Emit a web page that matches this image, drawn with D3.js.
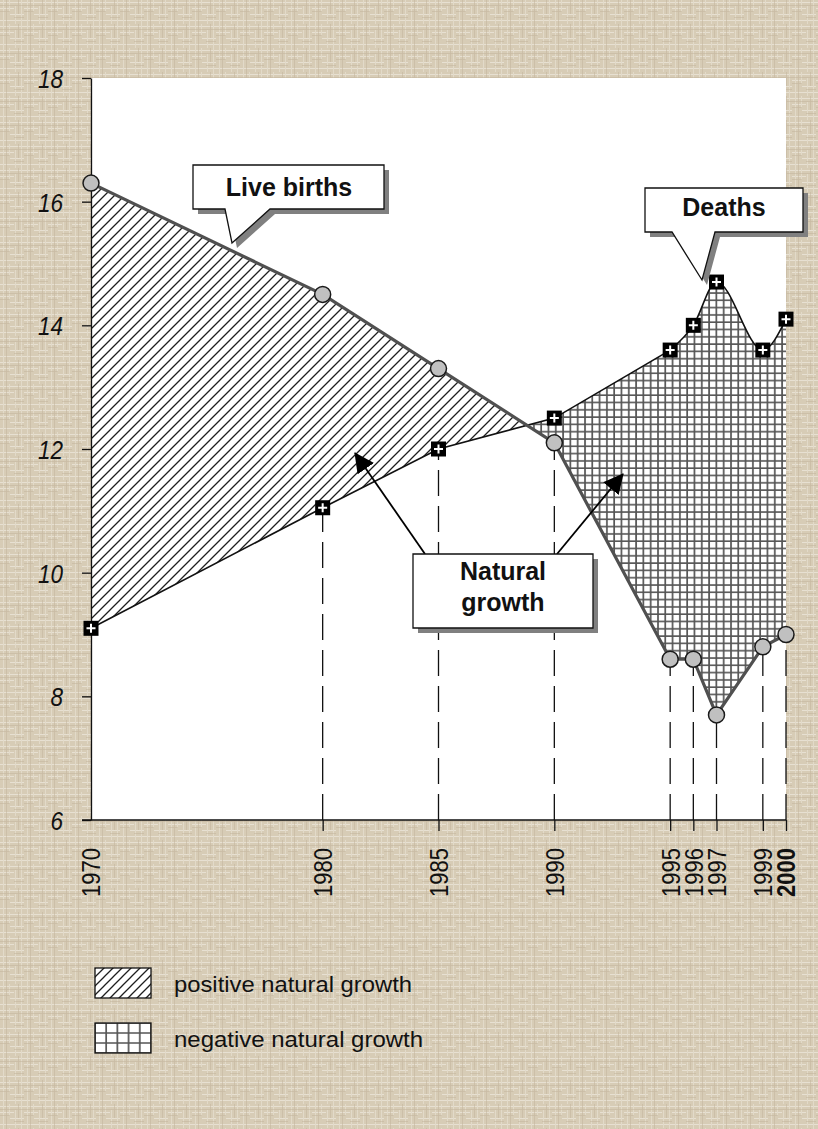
<!doctype html>
<html>
<head>
	<meta charset="utf-8">
	<script src="https://d3js.org/d3.v7.min.js"></script>
	<style>
		body { margin: 0; }
		svg { display: block; }
	</style>
</head>
<body>
	<div id="viz"></div>
	<script>
		// values (per 1000 population)
		var years = [1970, 1980, 1985, 1990, 1995, 1996, 1997, 1999, 2000];
		var liveBirths = [16.3, 14.5, 13.3, 12.1, 8.6, 8.6, 7.7, 8.8, 9.0];
		var deaths = [9.1, 11.05, 12.0, 12.5, 13.6, 14.0, 14.7, 13.6, 14.1];
		var yTicks = [6, 8, 10, 12, 14, 16, 18];
		var legendLabels = ["positive natural growth", "negative natural growth"];

		dataViz()
		function dataViz() {
			var W = 818, H = 1129;
			var plot = {left: 91, right: 786, top: 78, bottom: 820};

			var rows = years.map(function(yr, i) {
				return {year: yr, births: liveBirths[i], deaths: deaths[i]};
			});

			var xScale = d3.scaleLinear()
				.domain([1970, 2000])
				.range([plot.left, plot.right]);

			var yScale = d3.scaleLinear()
				.domain([6, 18])
				.range([plot.bottom, plot.top]);

			var svg = d3.select("#viz").append("svg")
				.attr("width", W)
				.attr("height", H);

			var defs = svg.append("defs");

			// burlap-ish background texture
			var tex = defs.append("pattern")
				.attr("id", "texture")
				.attr("patternUnits", "userSpaceOnUse")
				.attr("width", 24).attr("height", 24);
			tex.append("rect").attr("width", 24).attr("height", 24).attr("fill", "#d7ccb6");
			tex.append("path").attr("d", "M0,2.5H24M0,8.5H14M10,14.5H24M0,20.5H24")
				.attr("stroke", "#e7e0d2").attr("stroke-width", 1.2);
			tex.append("path").attr("d", "M3.5,0V24M9.5,0V12M15.5,6V24M21.5,0V24")
				.attr("stroke", "#e2dac9").attr("stroke-width", 1);
			tex.append("path").attr("d", "M0,5.5H24M0,11.5H10M14,17.5H24M6.5,0V24M18.5,0V14")
				.attr("stroke", "#c3b59c").attr("stroke-width", 0.8).attr("opacity", 0.7);

			function hatchPattern(id, size, tx, ty) {
				var p = defs.append("pattern")
					.attr("id", id)
					.attr("patternUnits", "userSpaceOnUse")
					.attr("width", size).attr("height", size)
					.attr("patternTransform", "translate(" + tx + "," + ty + ")");
				p.append("rect").attr("width", size).attr("height", size).attr("fill", "#fff");
				p.append("path")
					.attr("d", "M0," + size + "L" + size + ",0M" + (-size / 4) + "," + (size / 4) + "L" + (size / 4) + "," + (-size / 4) +
						"M" + (size * 0.75) + "," + (size * 1.25) + "L" + (size * 1.25) + "," + (size * 0.75))
					.attr("stroke", "#1e1e1e").attr("stroke-width", 1.3);
			}
			function gridPattern(id, w, h, tx, ty) {
				var p = defs.append("pattern")
					.attr("id", id)
					.attr("patternUnits", "userSpaceOnUse")
					.attr("width", w).attr("height", h)
					.attr("patternTransform", "translate(" + tx + "," + ty + ")");
				p.append("rect").attr("width", w).attr("height", h).attr("fill", "#fff");
				p.append("path").attr("d", "M0,1H" + w + "M1,0V" + h)
					.attr("stroke", "#555").attr("stroke-width", 1.7);
			}
			hatchPattern("hatch", 10, 0, 0);
			gridPattern("grid", 7.3, 7.3, 0, 0);
			hatchPattern("hatchLegend", 9, 95, 968);
			gridPattern("gridLegend", 11.2, 10, 94, 1022);

			svg.append("rect")
				.attr("width", W).attr("height", H)
				.attr("fill", "url(#texture)");

			svg.append("rect")
				.attr("x", plot.left).attr("y", plot.top)
				.attr("width", plot.right - plot.left)
				.attr("height", plot.bottom - plot.top)
				.attr("fill", "#fff");

			// deaths line: straight up to 1995, smoothed afterwards
			var splitYear = 1995;
			var headRows = rows.filter(d => d.year <= splitYear);
			var tailRows = rows.filter(d => d.year >= splitYear);
			var deathsHead = d3.line()
				.x(d => xScale(d.year)).y(d => yScale(d.deaths))(headRows);
			var deathsTail = d3.line()
				.x(d => xScale(d.year)).y(d => yScale(d.deaths))
				.curve(d3.curveMonotoneX)(tailRows);
			var deathsPath = deathsHead + "L" + deathsTail.slice(1);

			var x0 = xScale(years[0]), x1 = xScale(years[years.length - 1]);
			var aboveDeaths = deathsPath + "L" + x1 + "," + (plot.top - 20) + "L" + x0 + "," + (plot.top - 20) + "Z";
			var belowDeaths = deathsPath + "L" + x1 + "," + (plot.bottom + 20) + "L" + x0 + "," + (plot.bottom + 20) + "Z";

			defs.append("clipPath").attr("id", "clipAbove")
				.append("path").attr("d", aboveDeaths);
			defs.append("clipPath").attr("id", "clipBelow")
				.append("path").attr("d", belowDeaths);

			// positive natural growth: births above deaths
			svg.append("g").attr("clip-path", "url(#clipAbove)")
				.append("path")
				.attr("d", d3.area()
					.x(d => xScale(d.year))
					.y0(d => yScale(d.births))
					.y1(plot.bottom)(rows))
				.attr("fill", "url(#hatch)");

			// negative natural growth: deaths above births
			svg.append("g").attr("clip-path", "url(#clipBelow)")
				.append("path")
				.attr("d", d3.area()
					.x(d => xScale(d.year))
					.y0(plot.top)
					.y1(d => yScale(d.births))(rows))
				.attr("fill", "url(#grid)");

			// dashed drop lines
			svg.append("g")
				.selectAll("line")
				.data(rows.filter(d => d.year !== 1970))
				.enter()
				.append("line")
					.attr("x1", d => xScale(d.year))
					.attr("x2", d => xScale(d.year))
					.attr("y1", plot.bottom)
					.attr("y2", d => yScale(Math.min(d.births, d.deaths)))
					.attr("stroke", "#111")
					.attr("stroke-width", 1.3)
					.attr("stroke-dasharray", "26,10");

			// axes
			var yAxis = d3.axisLeft(yScale)
				.tickValues(yTicks)
				.tickSizeInner(9)
				.tickSizeOuter(0)
				.tickPadding(19);
			var yAxisG = svg.append("g")
				.attr("transform", "translate(" + plot.left + ",0)")
				.call(yAxis);
			yAxisG.select(".domain").attr("stroke", "#111").attr("stroke-width", 1.3);
			yAxisG.selectAll(".tick line").attr("stroke", "#111").attr("stroke-width", 1.3);
			yAxisG.selectAll(".tick text")
				.attr("font-family", "'Liberation Sans Narrow', 'Liberation Sans', Arial, sans-serif")
				.attr("font-style", "italic")
				.attr("font-size", 26)
				.attr("fill", "#111")
				.attr("dy", "0.36em")
				.attr("textLength", d => String(d).length * 12.5)
				.attr("lengthAdjust", "spacingAndGlyphs");

			var xAxis = d3.axisBottom(xScale)
				.tickValues(years.filter(d => d !== 1970))
				.tickSizeInner(11)
				.tickSizeOuter(0)
				.tickFormat("");
			var xAxisG = svg.append("g")
				.attr("transform", "translate(0," + plot.bottom + ")")
				.call(xAxis);
			xAxisG.select(".domain").remove();
			xAxisG.selectAll(".tick line").attr("stroke", "#111").attr("stroke-width", 1.3);
			svg.append("line")
				.attr("x1", plot.left - 9).attr("x2", plot.right)
				.attr("y1", plot.bottom).attr("y2", plot.bottom)
				.attr("stroke", "#111").attr("stroke-width", 1.3);

			svg.append("g")
				.selectAll("text")
				.data(years)
				.enter()
				.append("text")
					.attr("transform", d => "translate(" + xScale(d) + ",848) rotate(-90)")
					.attr("text-anchor", "end")
					.attr("dy", "0.36em")
					.attr("font-family", "'Liberation Sans Narrow', 'Liberation Sans', Arial, sans-serif")
					.attr("font-size", 26)
					.attr("font-weight", d => d === 2000 ? "bold" : "normal")
					.attr("fill", "#111")
					.attr("textLength", 49)
					.attr("lengthAdjust", "spacingAndGlyphs")
					.text(d => d);

			// lines
			svg.append("path")
				.attr("d", deathsPath)
				.attr("fill", "none")
				.attr("stroke", "#111")
				.attr("stroke-width", 1.6);

			svg.append("path")
				.attr("d", d3.line().x(d => xScale(d.year)).y(d => yScale(d.births))(rows))
				.attr("fill", "none")
				.attr("stroke", "#505050")
				.attr("stroke-width", 3.2);

			// death markers: black squares with white plus
			var sq = svg.append("g")
				.selectAll("g")
				.data(rows)
				.enter()
				.append("g")
					.attr("transform", d => "translate(" + xScale(d.year) + "," + yScale(d.deaths) + ")");
			sq.append("rect")
				.attr("x", -7.5).attr("y", -7.5)
				.attr("width", 15).attr("height", 15)
				.attr("fill", "#000");
			sq.append("path")
				.attr("d", "M-4.5,0H4.5M0,-4.5V4.5")
				.attr("stroke", "#fff")
				.attr("stroke-width", 2);

			// birth markers: gray circles
			svg.append("g")
				.selectAll("circle")
				.data(rows)
				.enter()
				.append("circle")
					.attr("r", 8)
					.attr("cx", d => xScale(d.year))
					.attr("cy", d => yScale(d.births))
					.attr("fill", "#c0c0c0")
					.attr("stroke", "#1a1a1a")
					.attr("stroke-width", 1.5);

			// callouts
			function callout(d, lines, tx, baselines) {
				var g = svg.append("g");
				g.append("path").attr("d", d)
					.attr("transform", "translate(5,5)")
					.attr("fill", "#808080");
				g.append("path").attr("d", d)
					.attr("fill", "#fff")
					.attr("stroke", "#111")
					.attr("stroke-width", 1.3);
				lines.forEach(function(t, i) {
					g.append("text")
						.attr("x", tx).attr("y", baselines[i])
						.attr("text-anchor", "middle")
						.attr("font-family", "'Liberation Sans', Arial, sans-serif")
						.attr("font-weight", "bold")
						.attr("font-size", 25)
						.attr("fill", "#111")
						.text(t);
				});
			}
			callout("M193,165H384V209H270L232,243L225,209H193Z", ["Live births"], 289, [196]);
			callout("M645,188H803V232H715L702,280L672,232H645Z", ["Deaths"], 724, [216]);

			// natural growth arrows
			defs.append("marker")
				.attr("id", "arrow")
				.attr("viewBox", "0 0 20 20")
				.attr("refX", 19).attr("refY", 10)
				.attr("markerWidth", 20).attr("markerHeight", 20)
				.attr("markerUnits", "userSpaceOnUse")
				.attr("orient", "auto")
				.append("path")
					.attr("d", "M0,0L20,10L0,20Z")
					.attr("fill", "#000");
			svg.append("line")
				.attr("x1", 425).attr("y1", 554).attr("x2", 355).attr("y2", 453)
				.attr("stroke", "#000").attr("stroke-width", 1.8)
				.attr("marker-end", "url(#arrow)");
			svg.append("line")
				.attr("x1", 557).attr("y1", 554).attr("x2", 623).attr("y2", 474)
				.attr("stroke", "#000").attr("stroke-width", 1.8)
				.attr("marker-end", "url(#arrow)");
			callout("M413,554H593V628H413Z", ["Natural", "growth"], 503, [580, 611]);

			// legend
			var legend = svg.append("g");
			var legendFills = ["url(#hatchLegend)", "url(#gridLegend)"];
			var legendY = [968, 1023];
			legendLabels.forEach(function(label, i) {
				legend.append("rect")
					.attr("x", 95).attr("y", legendY[i])
					.attr("width", 56).attr("height", 30)
					.attr("fill", legendFills[i])
					.attr("stroke", "#111")
					.attr("stroke-width", 1.3);
				legend.append("text")
					.attr("x", 174).attr("y", legendY[i] + 24)
					.attr("font-family", "'Liberation Sans', Arial, sans-serif")
					.attr("font-size", 22)
					.attr("fill", "#111")
					.attr("textLength", i === 0 ? 238 : 249)
					.attr("lengthAdjust", "spacingAndGlyphs")
					.text(label);
			});
		}
	</script>
</body>
</html>
